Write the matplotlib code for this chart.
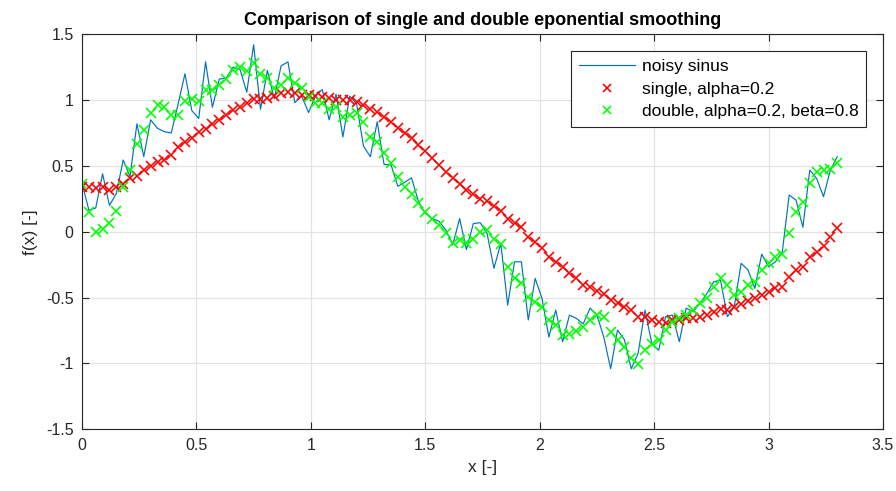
import numpy as np
import matplotlib
matplotlib.use("Agg")
import matplotlib.pyplot as plt

# x grid of the sampled signal, step 0.03 from 0 to 3.3
x_start, x_stop, x_step = 0.0, 3.3, 0.03

noisy = [
    0.37, 0.165, 0.18, 0.44, 0.20, 0.29, 0.545, 0.42, 0.82, 0.57,
    0.85, 0.785, 0.76, 0.75, 0.97, 1.20, 0.92, 0.86, 1.29, 0.945,
    1.16, 1.165, 1.25, 1.235, 1.06, 1.42, 0.93, 1.225, 1.01, 1.26,
    1.29, 0.98, 1.03, 0.905, 1.03, 1.08, 0.85, 1.045, 0.72, 1.03,
    0.97, 0.65, 0.57, 0.835, 0.51, 0.51, 0.345, 0.375, 0.41, 0.23,
    0.14, 0.10, 0.08, 0.013, -0.10, 0.10, -0.135, 0.062, 0.069, -0.012,
    -0.278, -0.088, -0.557, -0.228, -0.228, -0.67, -0.354, -0.506, -0.80, -0.595,
    -0.835, -0.633, -0.658, -0.70, -0.58, -0.633, -0.80, -1.04, -0.746, -0.82,
    -1.04, -0.923, -0.595, -0.85, -0.90, -0.645, -0.633, -0.835, -0.58, -0.607,
    -0.544, -0.47, -0.38, -0.367, -0.645, -0.57, -0.24, -0.29, -0.43, -0.17,
    -0.266, -0.228, -0.152, 0.279, 0.24, 0.034, 0.468, 0.405, 0.266, 0.468,
    0.57,
]

single = [
    0.34, 0.337, 0.33, 0.337, 0.32, 0.34, 0.36, 0.405, 0.42, 0.47,
    0.50, 0.53, 0.545, 0.58, 0.645, 0.68, 0.71, 0.76, 0.78, 0.815,
    0.85, 0.886, 0.924, 0.945, 0.98, 1.005, 1.005, 1.013, 1.03, 1.05,
    1.06, 1.05, 1.04, 1.04, 1.03, 1.025, 1.013, 1.00, 1.00, 1.00,
    0.985, 0.962, 0.93, 0.91, 0.87, 0.83, 0.79, 0.75, 0.71, 0.66,
    0.61, 0.56, 0.506, 0.456, 0.405, 0.36, 0.32, 0.285, 0.25, 0.23,
    0.195, 0.16, 0.094, 0.064, 0.034, -0.038, -0.076, -0.126, -0.19, -0.228,
    -0.27, -0.316, -0.354, -0.405, -0.42, -0.448, -0.473, -0.52, -0.544, -0.574,
    -0.595, -0.645, -0.645, -0.67, -0.683, -0.69, -0.67, -0.67, -0.658, -0.658,
    -0.645, -0.633, -0.61, -0.59, -0.595, -0.57, -0.55, -0.524, -0.506, -0.48,
    -0.456, -0.43, -0.42, -0.34, -0.29, -0.266, -0.19, -0.15, -0.11, -0.043,
    0.026,
]

double = [
    0.362, 0.147, 0.00, 0.018, 0.068, 0.16, 0.34, 0.47, 0.67, 0.77,
    0.90, 0.96, 0.95, 0.89, 0.89, 0.99, 1.01, 0.995, 1.08, 1.076,
    1.114, 1.16, 1.23, 1.25, 1.22, 1.28, 1.195, 1.165, 1.09, 1.114,
    1.165, 1.13, 1.09, 1.025, 0.98, 0.98, 0.93, 0.945, 0.873, 0.89,
    0.905, 0.833, 0.72, 0.68, 0.597, 0.52, 0.415, 0.34, 0.29, 0.215,
    0.148, 0.095, 0.05, -0.012, -0.082, -0.066, -0.088, -0.058, 0.0, 0.013,
    -0.058, -0.094, -0.27, -0.354, -0.387, -0.498, -0.53, -0.574, -0.67, -0.708,
    -0.784, -0.777, -0.75, -0.72, -0.67, -0.633, -0.645, -0.76, -0.82, -0.873,
    -0.96, -1.005, -0.90, -0.85, -0.82, -0.746, -0.683, -0.658, -0.633, -0.595,
    -0.544, -0.50, -0.42, -0.354, -0.405, -0.48, -0.456, -0.405, -0.38, -0.29,
    -0.24, -0.195, -0.17, -0.012, 0.152, 0.228, 0.367, 0.456, 0.468, 0.48,
    0.52,
]

x_ticks = [0, 0.5, 1, 1.5, 2, 2.5, 3, 3.5]
y_ticks = [-1.5, -1, -0.5, 0, 0.5, 1, 1.5]

plt.rcParams['font.family'] = ['Liberation Sans', 'DejaVu Sans']
plt.rcParams['axes.unicode_minus'] = False

x = np.arange(len(noisy)) * x_step + x_start

axis_col = '#262626'

fig = plt.figure(figsize=(8.96, 4.91), dpi=100)
ax = fig.add_axes([0.0915, 0.1257, 0.894, 0.8046])

ax.plot(x, noisy, color='#0072BD', lw=0.85, label='noisy sinus')
ax.plot(x, single, 'x', color='#FF0000', ms=6.6, mew=1.15, ls='none',
        label='single, alpha=0.2')
ax.plot(x, double, 'x', color='#00FF00', ms=6.6, mew=1.15, ls='none',
        label='double, alpha=0.2, beta=0.8')

ax.set_xlim(0, 3.5)
ax.set_ylim(-1.5, 1.5)
ax.set_xticks(x_ticks)
ax.set_xticklabels(['0', '0.5', '1', '1.5', '2', '2.5', '3', '3.5'])
ax.set_yticks(y_ticks)
ax.set_yticklabels(['-1.5', '-1', '-0.5', '0', '0.5', '1', '1.5'])

ax.grid(True, color='#e3e3e3', lw=0.9)
ax.set_axisbelow(True)
ax.tick_params(direction='in', top=True, right=True, length=5,
               labelsize=11.5, colors=axis_col, pad=6)
for sp in ax.spines.values():
    sp.set_color(axis_col)
    sp.set_linewidth(0.8)

ax.set_title('Comparison of single and double eponential smoothing',
             fontsize=13, fontweight='bold', color='black', pad=7)
ax.set_xlabel('x [-]', fontsize=12.5, color=axis_col, labelpad=5)
ax.set_ylabel('f(x) [-]', fontsize=12.5, color=axis_col, labelpad=6)

leg = ax.legend(loc='upper right', bbox_to_anchor=(0.979, 0.957),
                borderaxespad=0, fontsize=12.5, fancybox=False,
                framealpha=1, edgecolor=axis_col, handlelength=3.2,
                handletextpad=0.4, labelspacing=0.42, borderpad=0.45,
                markerscale=0.8)
leg.get_frame().set_linewidth(0.8)

fig.savefig('out.png', dpi=100)
